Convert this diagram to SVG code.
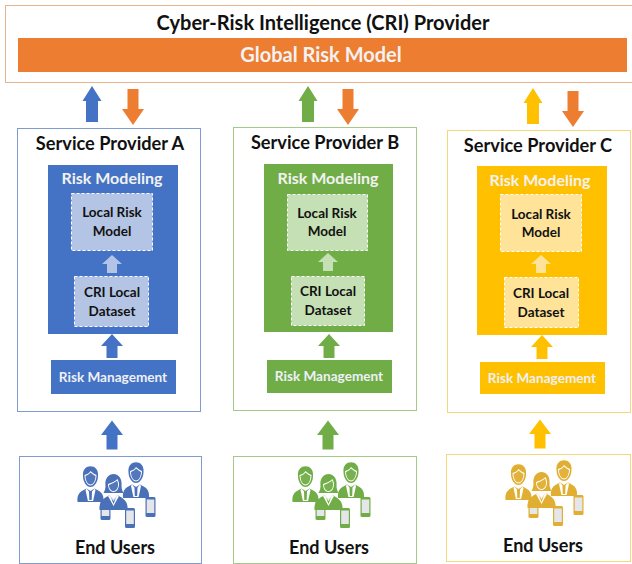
<svg xmlns="http://www.w3.org/2000/svg" width="632" height="564" viewBox="0 0 632 564">
<style>
text{font-family:Lato,"Open Sans","Liberation Sans",sans-serif;font-weight:700;text-anchor:middle;fill:#111}
.h{font-size:18.200px}.t{font-size:20px}.s{font-size:16px}.w{fill:#f2f2f2}
.lab{font-size:13.500px}.rm{font-size:13.600px;fill:#eef0f6}.eu{font-size:18px}
.dash{stroke:#fff;stroke-width:1;stroke-dasharray:3 2}
</style>
<defs>
<path id="up" d="M0 -18L11 0H5.500V18H-5.500V0H-11Z"/>
<path id="upT" d="M0 -18L9.500 -3H6V18H-6V-3H-9.500Z"/>
<path id="dn" d="M-5.500 -18H5.500V2H11L0 18L-11 2H-5.500Z"/>
<path id="mini" d="M0 -9L10 0H5V9H-5V0H-10Z"/>
<g id="man">
<path d="M-7.500 -1C-9 -14 9 -14 7.500 -1C7.500 5 4 10 0 10C-4 10 -7.500 5 -7.500 -1Z"/>
<path d="M-6 -2C-3 -3 -1 -4 0 -6C2 -4 4 -3 6 -2C6 4 3 8.500 0 8.500C-3 8.500 -6 4 -6 -2Z" fill="#fff"/>
<path d="M-5 -1C-3 -2 -1 -3 0 -4.500C2 -3 3 -2 5 -1C5 4 2.500 7.500 0 7.500C-2.500 7.500 -5 4 -5 -1Z" opacity=".95"/>
<path d="M-13 25C-14 16 -9 14 -4 11.500L0 14L4 11.500C9 14 14 16 13 25Z"/>
<path d="M-4 11.500L-1.500 14.500L-1.200 23H1.200L1.500 14.500L4 11.500L5 13L2.600 24H-2.600L-5 13Z" fill="#fff"/>
</g>
<g id="woman">
<path d="M-8 3C-10 -13 10 -13 8 3C8 6 9 8 10 10H-10C-9 8 -8 6 -8 3Z"/>
<path d="M-5.500 1C-2 0 2 -2 4 -4C5 -2 5.500 0 5.500 1C5.500 6 3 9 0 9C-3 9 -5.500 6 -5.500 1Z" fill="#fff"/>
<path d="M-4.500 2C-2 1 2 -1 3.500 -2.500C4.500 -1 4.500 1 4.500 2C4.500 5.500 2.500 8 0 8C-2.500 8 -4.500 5.500 -4.500 2Z" opacity=".95"/>
<path d="M-14 27C-15 18 -9 15 -4 12L0 17L4 12C9 15 15 18 14 27Z"/>
<path d="M-4 12L0 17L4 12L5.500 13L0 23L-5.500 13Z" fill="#fff"/>
<path d="M-2.500 14.500L0 21L2.500 14.500L0 18Z"/>
</g>
<g id="phone"><rect x="-5" y="-10" width="10" height="20" rx="1.500"/><rect x="-3.800" y="-7.500" width="7.600" height="13.500" fill="#e4e6ea"/></g>
<g id="users" fill="currentColor">
<use href="#man" x="90.500" y="477"/><use href="#man" x="136" y="473"/>
<use href="#phone" x="105.500" y="510"/><use href="#phone" x="130" y="518"/><use href="#phone" x="150.500" y="507"/>
<path d="M99 495C106 491 121 491 129 495V497H99Z" fill="#fff" opacity="0"/>
<use href="#woman" x="113.500" y="483"/>
</g>
</defs>
<g id="cri-provider">
<rect x="5.500" y="5.500" width="640" height="77" fill="#fff" stroke="#e9b48c"/>
<text class="t" x="323" y="30">Cyber-Risk Intelligence (CRI) Provider</text>
<rect x="18" y="38" width="609" height="34" fill="#ed7d31"/>
<text class="t w" x="321" y="62">Global Risk Model</text>
</g>
<g id="provider-a">
<rect x="17.500" y="128.500" width="183" height="283" fill="#fff" stroke="#7f9bd1"/>
<text class="h" x="110" y="150">Service Provider A</text>
<rect x="48" y="165" width="130" height="169" fill="#4472c4"/>
<text class="s w" x="112" y="184">Risk Modeling</text>
<rect class="dash" x="71.500" y="193.500" width="81" height="57" fill="#b4c4e4"/>
<text class="lab" x="112" y="217">Local Risk</text><text class="lab" x="112" y="236">Model</text>
<rect class="dash" x="74.500" y="276.500" width="74" height="50" fill="#b4c4e4"/>
<text class="lab" x="112" y="297">CRI Local</text><text class="lab" x="112" y="316">Dataset</text>
<rect x="51" y="360" width="125" height="34" fill="#4472c4"/>
<text class="rm" x="113" y="382">Risk Management</text>
</g>
<g id="provider-b">
<rect x="233.500" y="127.500" width="183" height="283" fill="#fff" stroke="#a3cb87"/>
<text class="h" x="325" y="149">Service Provider B</text>
<rect x="264" y="164" width="129" height="168" fill="#70ad47"/>
<text class="s w" x="328" y="184">Risk Modeling</text>
<rect class="dash" x="287.500" y="194.500" width="80" height="56" fill="#c5e0b4"/>
<text class="lab" x="327" y="218">Local Risk</text><text class="lab" x="327" y="236">Model</text>
<rect class="dash" x="291.500" y="276.500" width="73" height="49" fill="#c5e0b4"/>
<text class="lab" x="328" y="296">CRI Local</text><text class="lab" x="328" y="315">Dataset</text>
<rect x="267" y="360" width="125" height="33" fill="#70ad47"/>
<text class="rm" x="329" y="381">Risk Management</text>
</g>
<g id="provider-c">
<rect x="447.500" y="130.500" width="183" height="282" fill="#fff" stroke="#f2d878"/>
<text class="h" x="538" y="152">Service Provider C</text>
<rect x="477" y="166" width="130" height="169" fill="#ffc000"/>
<text class="s w" x="540" y="186">Risk Modeling</text>
<rect class="dash" x="500.500" y="194.500" width="81" height="57" fill="#ffe399"/>
<text class="lab" x="541" y="219">Local Risk</text><text class="lab" x="541" y="237">Model</text>
<rect class="dash" x="504.500" y="277.500" width="74" height="50" fill="#ffe399"/>
<text class="lab" x="541" y="298">CRI Local</text><text class="lab" x="541" y="317">Dataset</text>
<rect x="480" y="362" width="125" height="32" fill="#ffc000"/>
<text class="rm" x="542" y="383">Risk Management</text>
</g>
<g id="end-users-a" color="#4a70b8">
<rect x="19.500" y="456.500" width="182" height="107" fill="#fff" stroke="#7f9bd1"/>
<use href="#users"/>
<text class="eu" x="115" y="554">End Users</text>
</g>
<g id="end-users-b" color="#70ad47">
<rect x="233.500" y="456.500" width="183" height="107" fill="#fff" stroke="#a3cb87"/>
<use href="#users" x="215" y="0"/>
<text class="eu" x="329" y="554">End Users</text>
</g>
<g id="end-users-c" color="#e0ae30">
<rect x="446.500" y="454.500" width="184" height="107" fill="#fff" stroke="#f2d878"/>
<use href="#users" x="428" y="-2"/>
<text class="eu" x="543" y="552">End Users</text>
</g>
<g id="connectors">
<use href="#upT" x="92" y="104" fill="#4472c4"/>
<use href="#dn" x="133" y="107" fill="#ed7d31"/>
<use href="#upT" x="308" y="104" fill="#70ad47"/>
<use href="#dn" x="348" y="107" fill="#ed7d31"/>
<use href="#upT" x="533" y="106" fill="#ffc000"/>
<use href="#dn" x="573" y="109" fill="#ed7d31"/>
<use href="#mini" x="112" y="264" fill="#b4c4e4"/>
<use href="#mini" x="328" y="262" fill="#c5e0b4"/>
<use href="#mini" x="541" y="264" fill="#ffe399"/>
<use href="#up" transform="translate(112 346) scale(1 .67)" fill="#4472c4"/>
<use href="#up" transform="translate(329 346) scale(1 .67)" fill="#70ad47"/>
<use href="#up" transform="translate(542 347) scale(1 .67)" fill="#ffc000"/>
<use href="#up" transform="translate(112 435) scale(1 .8)" fill="#4472c4"/>
<use href="#up" transform="translate(328 435) scale(1 .8)" fill="#70ad47"/>
<use href="#up" transform="translate(540 434) scale(1 .8)" fill="#ffc000"/>
</g>
</svg>
